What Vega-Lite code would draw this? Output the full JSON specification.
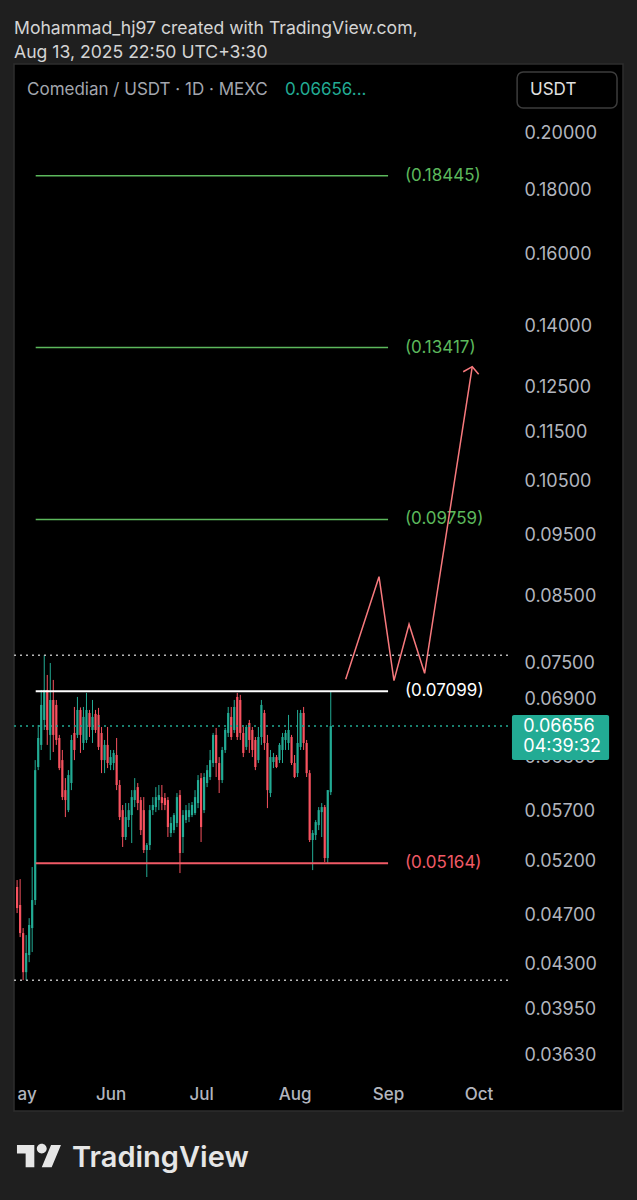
{
"$schema":"https://vega.github.io/schema/vega-lite/v6.json",
"width":609,"height":1047,
"autosize":{"type":"none"},
"padding":{"left":14,"top":64,"right":14,"bottom":89},
"background":"#1f1f1f",
"config":{"view":{"fill":"#000000","stroke":"#2e2e2e","strokeWidth":1.5},"font":"Inter","scale":{"continuousPadding":0}},
"title":{"text":["Mohammad_hj97 created with TradingView.com,","Aug 13, 2025 22:50 UTC+3:30"],"anchor":"start","frame":"group","orient":"top","color":"#d4d4d4","font":"Inter","fontSize":17.6,"fontWeight":"normal","lineHeight":24,"offset":2},
"datasets":{
"candles":[
{"d":"2025-05-01","o":0.04941,"h":0.05005,"l":0.04708,"c":0.04752},
{"d":"2025-05-02","o":0.04779,"h":0.05014,"l":0.04503,"c":0.04537},
{"d":"2025-05-03","o":0.04537,"h":0.04579,"l":0.04158,"c":0.04220},
{"d":"2025-05-04","o":0.04220,"h":0.04520,"l":0.04158,"c":0.04372},
{"d":"2025-05-05","o":0.04356,"h":0.04664,"l":0.04299,"c":0.04605},
{"d":"2025-05-06","o":0.04579,"h":0.05127,"l":0.04380,"c":0.04823},
{"d":"2025-05-07","o":0.04823,"h":0.06250,"l":0.04779,"c":0.06135},
{"d":"2025-05-08","o":0.06170,"h":0.06670,"l":0.06135,"c":0.06511},
{"d":"2025-05-09","o":0.06428,"h":0.07117,"l":0.06368,"c":0.06922},
{"d":"2025-05-10","o":0.06732,"h":0.07591,"l":0.06608,"c":0.07117},
{"d":"2025-05-11","o":0.07117,"h":0.07317,"l":0.06428,"c":0.06608},
{"d":"2025-05-12","o":0.06548,"h":0.07481,"l":0.06250,"c":0.06986},
{"d":"2025-05-13","o":0.06986,"h":0.07250,"l":0.06344,"c":0.06548},
{"d":"2025-05-14","o":0.06922,"h":0.06986,"l":0.06428,"c":0.06487},
{"d":"2025-05-15","o":0.06511,"h":0.06548,"l":0.06135,"c":0.06158},
{"d":"2025-05-16","o":0.06250,"h":0.06368,"l":0.05804,"c":0.05836},
{"d":"2025-05-17","o":0.05912,"h":0.06045,"l":0.05624,"c":0.05804},
{"d":"2025-05-18","o":0.05697,"h":0.06135,"l":0.05676,"c":0.06079},
{"d":"2025-05-19","o":0.05990,"h":0.06548,"l":0.05912,"c":0.06487},
{"d":"2025-05-20","o":0.06572,"h":0.06896,"l":0.06250,"c":0.06368},
{"d":"2025-05-21","o":0.06548,"h":0.07025,"l":0.06511,"c":0.06858},
{"d":"2025-05-22","o":0.06858,"h":0.06890,"l":0.06333,"c":0.06548},
{"d":"2025-05-23","o":0.06451,"h":0.06896,"l":0.06368,"c":0.06770},
{"d":"2025-05-24","o":0.06487,"h":0.07078,"l":0.06451,"c":0.06858},
{"d":"2025-05-25","o":0.06820,"h":0.06858,"l":0.06523,"c":0.06645},
{"d":"2025-05-26","o":0.06608,"h":0.06986,"l":0.06451,"c":0.06770},
{"d":"2025-05-27","o":0.06808,"h":0.06858,"l":0.06572,"c":0.06608},
{"d":"2025-05-28","o":0.06795,"h":0.06884,"l":0.06368,"c":0.06404},
{"d":"2025-05-29","o":0.06572,"h":0.06645,"l":0.06101,"c":0.06250},
{"d":"2025-05-30","o":0.06250,"h":0.06487,"l":0.06101,"c":0.06428},
{"d":"2025-05-31","o":0.06428,"h":0.06645,"l":0.06158,"c":0.06216},
{"d":"2025-06-01","o":0.06193,"h":0.06368,"l":0.06135,"c":0.06285},
{"d":"2025-06-02","o":0.06216,"h":0.06368,"l":0.06135,"c":0.06333},
{"d":"2025-06-03","o":0.06309,"h":0.06511,"l":0.05912,"c":0.05968},
{"d":"2025-06-04","o":0.05968,"h":0.06023,"l":0.05593,"c":0.05624},
{"d":"2025-06-05","o":0.05697,"h":0.05751,"l":0.05321,"c":0.05420},
{"d":"2025-06-06","o":0.05420,"h":0.05772,"l":0.05390,"c":0.05624},
{"d":"2025-06-07","o":0.05593,"h":0.05772,"l":0.05521,"c":0.05697},
{"d":"2025-06-08","o":0.05645,"h":0.05912,"l":0.05360,"c":0.05836},
{"d":"2025-06-09","o":0.05804,"h":0.06045,"l":0.05729,"c":0.05912},
{"d":"2025-06-10","o":0.05945,"h":0.05990,"l":0.05697,"c":0.05772},
{"d":"2025-06-11","o":0.05804,"h":0.05836,"l":0.05440,"c":0.05490},
{"d":"2025-06-12","o":0.05697,"h":0.05836,"l":0.05262,"c":0.05291},
{"d":"2025-06-13","o":0.05291,"h":0.05360,"l":0.05033,"c":0.05340},
{"d":"2025-06-14","o":0.05340,"h":0.05751,"l":0.05291,"c":0.05697},
{"d":"2025-06-15","o":0.05697,"h":0.05836,"l":0.05645,"c":0.05751},
{"d":"2025-06-16","o":0.05729,"h":0.05945,"l":0.05676,"c":0.05836},
{"d":"2025-06-17","o":0.05804,"h":0.05968,"l":0.05697,"c":0.05858},
{"d":"2025-06-18","o":0.05836,"h":0.05968,"l":0.05697,"c":0.05772},
{"d":"2025-06-19","o":0.05826,"h":0.05880,"l":0.05697,"c":0.05751},
{"d":"2025-06-20","o":0.05804,"h":0.05836,"l":0.05420,"c":0.05521},
{"d":"2025-06-21","o":0.05460,"h":0.05624,"l":0.05420,"c":0.05562},
{"d":"2025-06-22","o":0.05490,"h":0.05666,"l":0.05460,"c":0.05645},
{"d":"2025-06-23","o":0.05562,"h":0.05880,"l":0.05521,"c":0.05836},
{"d":"2025-06-24","o":0.05858,"h":0.05912,"l":0.05070,"c":0.05262},
{"d":"2025-06-25","o":0.05420,"h":0.05697,"l":0.05262,"c":0.05645},
{"d":"2025-06-26","o":0.05593,"h":0.05751,"l":0.05562,"c":0.05697},
{"d":"2025-06-27","o":0.05624,"h":0.05772,"l":0.05572,"c":0.05697},
{"d":"2025-06-28","o":0.05645,"h":0.05783,"l":0.05624,"c":0.05751},
{"d":"2025-06-29","o":0.05666,"h":0.05912,"l":0.05645,"c":0.05836},
{"d":"2025-06-30","o":0.05772,"h":0.06079,"l":0.05718,"c":0.06023},
{"d":"2025-07-01","o":0.06045,"h":0.06101,"l":0.05370,"c":0.05521},
{"d":"2025-07-02","o":0.05697,"h":0.06101,"l":0.05666,"c":0.06057},
{"d":"2025-07-03","o":0.05990,"h":0.06193,"l":0.05945,"c":0.06135},
{"d":"2025-07-04","o":0.06057,"h":0.06368,"l":0.06023,"c":0.06250},
{"d":"2025-07-05","o":0.06216,"h":0.06572,"l":0.06170,"c":0.06548},
{"d":"2025-07-06","o":0.06548,"h":0.06633,"l":0.06057,"c":0.06216},
{"d":"2025-07-07","o":0.06216,"h":0.06285,"l":0.05880,"c":0.06023},
{"d":"2025-07-08","o":0.06023,"h":0.06404,"l":0.05990,"c":0.06368},
{"d":"2025-07-09","o":0.06368,"h":0.06633,"l":0.06333,"c":0.06608},
{"d":"2025-07-10","o":0.06572,"h":0.06896,"l":0.06523,"c":0.06820},
{"d":"2025-07-11","o":0.06770,"h":0.06896,"l":0.06487,"c":0.06523},
{"d":"2025-07-12","o":0.06608,"h":0.06986,"l":0.06572,"c":0.06896},
{"d":"2025-07-13","o":0.07025,"h":0.07078,"l":0.06487,"c":0.06523},
{"d":"2025-07-14","o":0.06986,"h":0.07052,"l":0.06487,"c":0.06572},
{"d":"2025-07-15","o":0.06572,"h":0.06645,"l":0.06285,"c":0.06333},
{"d":"2025-07-16","o":0.06404,"h":0.06670,"l":0.06368,"c":0.06645},
{"d":"2025-07-17","o":0.06695,"h":0.06732,"l":0.06333,"c":0.06487},
{"d":"2025-07-18","o":0.06608,"h":0.06645,"l":0.06285,"c":0.06368},
{"d":"2025-07-19","o":0.06487,"h":0.06523,"l":0.06135,"c":0.06170},
{"d":"2025-07-20","o":0.06250,"h":0.06645,"l":0.06216,"c":0.06523},
{"d":"2025-07-21","o":0.06523,"h":0.06986,"l":0.06428,"c":0.06922},
{"d":"2025-07-22","o":0.06820,"h":0.06858,"l":0.06368,"c":0.06451},
{"d":"2025-07-23","o":0.06451,"h":0.06548,"l":0.05718,"c":0.05912},
{"d":"2025-07-24","o":0.05880,"h":0.06368,"l":0.05836,"c":0.06285},
{"d":"2025-07-25","o":0.06228,"h":0.06333,"l":0.06158,"c":0.06285},
{"d":"2025-07-26","o":0.06285,"h":0.06309,"l":0.06158,"c":0.06170},
{"d":"2025-07-27","o":0.06250,"h":0.06451,"l":0.06216,"c":0.06428},
{"d":"2025-07-28","o":0.06368,"h":0.06572,"l":0.06216,"c":0.06523},
{"d":"2025-07-29","o":0.06487,"h":0.06608,"l":0.06368,"c":0.06572},
{"d":"2025-07-30","o":0.06451,"h":0.06795,"l":0.06368,"c":0.06608},
{"d":"2025-07-31","o":0.06523,"h":0.06548,"l":0.06193,"c":0.06216},
{"d":"2025-08-01","o":0.06216,"h":0.06309,"l":0.06045,"c":0.06057},
{"d":"2025-08-02","o":0.06101,"h":0.06858,"l":0.06057,"c":0.06451},
{"d":"2025-08-03","o":0.06404,"h":0.06858,"l":0.06368,"c":0.06820},
{"d":"2025-08-04","o":0.06820,"h":0.06896,"l":0.06368,"c":0.06451},
{"d":"2025-08-05","o":0.06451,"h":0.06487,"l":0.06057,"c":0.06101},
{"d":"2025-08-06","o":0.06101,"h":0.06135,"l":0.05370,"c":0.05390},
{"d":"2025-08-07","o":0.05390,"h":0.05490,"l":0.05098,"c":0.05460},
{"d":"2025-08-08","o":0.05440,"h":0.05593,"l":0.05390,"c":0.05572},
{"d":"2025-08-09","o":0.05541,"h":0.05729,"l":0.05490,"c":0.05697},
{"d":"2025-08-10","o":0.05676,"h":0.05772,"l":0.05420,"c":0.05729},
{"d":"2025-08-11","o":0.05729,"h":0.05751,"l":0.05175,"c":0.05213},
{"d":"2025-08-12","o":0.05213,"h":0.05912,"l":0.05165,"c":0.05912},
{"d":"2025-08-13","o":0.05890,"h":0.07099,"l":0.05858,"c":0.06656}
],
"dots":[{"k":"hi","p":0.0759},{"k":"last","p":0.06656},{"k":"lo","p":0.04158}],
"levels":[
{"k":"t3","p":0.18445,"label":"(0.18445)"},
{"k":"t2","p":0.13417,"label":"(0.13417)"},
{"k":"t1","p":0.09759,"label":"(0.09759)"},
{"k":"top","p":0.07099,"label":"(0.07099)"},
{"k":"bot","p":0.05164,"label":"(0.05164)"}
],
"proj":[
{"g":"path","k":1,"date":"2025-08-17T23:00:00Z","p":0.07259},
{"g":"path","k":2,"date":"2025-08-29T00:00:00Z","p":0.08778},
{"g":"path","k":3,"date":"2025-09-02T23:00:00Z","p":0.0724},
{"g":"path","k":4,"date":"2025-09-07T23:00:00Z","p":0.08038},
{"g":"path","k":5,"date":"2025-09-13T03:00:00Z","p":0.0734},
{"g":"path","k":6,"date":"2025-09-28T22:00:00Z","p":0.1295},
{"g":"head","k":1,"date":"2025-09-25T22:00:00Z","p":0.1283},
{"g":"head","k":2,"date":"2025-09-28T22:00:00Z","p":0.1295},
{"g":"head","k":3,"date":"2025-10-01T01:00:00Z","p":0.1277}
]
},
"layer":[
{"data":{"name":"candles"},"mark":{"type":"rule","strokeWidth":1},
 "encoding":{
  "x":{"field":"d","type":"temporal","scale":{"type":"utc","padding":0,"domain":[{"year":2025,"month":"apr","date":29,"hours":23,"minutes":17,"utc":true},{"year":2025,"month":"nov","date":17,"hours":21,"minutes":36,"utc":true}]},
   "axis":{"orient":"bottom","offset":-25,"title":null,"domain":false,"ticks":false,"grid":false,"labelPadding":0,"labelFlush":false,"labelOverlap":false,"labelBound":false,"labelFont":"Inter","labelFontSize":17,"labelFontWeight":500,"labelColor":"#b2b5be",
    "values":[{"year":2025,"month":"may","date":1,"utc":true},{"year":2025,"month":"jun","date":1,"utc":true},{"year":2025,"month":"jul","date":1,"utc":true},{"year":2025,"month":"aug","date":1,"utc":true},{"year":2025,"month":"sep","date":1,"utc":true},{"year":2025,"month":"oct","date":1,"utc":true}],
    "labelExpr":"utcmonth(datum.value)==4 ? 'ay' : utcFormat(datum.value,'%b')",
    "labelAlign":{"condition":{"test":"utcmonth(datum.value)==4","value":"left"},"value":"center"}}},
  "y":{"field":"l","type":"quantitative","scale":{"type":"log","padding":0,"domain":[0.032632,0.22684],"nice":false},
   "axis":{"orient":"right","offset":-99,"title":null,"domain":false,"ticks":false,"grid":false,"labelPadding":0,
    "labelOffset":{"condition":{"test":"abs(datum.value-0.069)<0.000001","value":-7},"value":2},
    "labelOverlap":false,"labelBound":false,"labelFlush":false,"labelFont":"Inter","labelFontSize":18,"labelColor":"#b2b5be","format":".5f",
    "values":[0.2,0.18,0.16,0.14,0.125,0.115,0.105,0.095,0.085,0.075,0.069,0.063,0.057,0.052,0.047,0.043,0.0395,0.0363]}},
  "y2":{"field":"h"},
  "color":{"condition":{"test":"datum.c>=datum.o","value":"#22ab94"},"value":"#f7525f"}}},
{"data":{"name":"candles"},"mark":{"type":"bar","width":2.2},
 "encoding":{
  "x":{"field":"d","type":"temporal","scale":{"type":"utc","padding":0,"domain":[{"year":2025,"month":"apr","date":29,"hours":23,"minutes":17,"utc":true},{"year":2025,"month":"nov","date":17,"hours":21,"minutes":36,"utc":true}]}},
  "y":{"field":"o","type":"quantitative","scale":{"type":"log","padding":0,"domain":[0.032632,0.22684],"nice":false}},
  "y2":{"field":"c"},
  "color":{"condition":{"test":"datum.c>=datum.o","value":"#22ab94"},"value":"#f7525f"}}},
{"data":{"name":"dots"},"mark":{"type":"rule","strokeDash":[2,4],"strokeWidth":1.5},
 "encoding":{
  "x":{"datum":{"year":2025,"month":"apr","date":29,"hours":23,"minutes":17,"utc":true},"type":"temporal","scale":{"type":"utc","padding":0,"domain":[{"year":2025,"month":"apr","date":29,"hours":23,"minutes":17,"utc":true},{"year":2025,"month":"nov","date":17,"hours":21,"minutes":36,"utc":true}]}},
  "x2":{"datum":{"year":2025,"month":"oct","date":11,"hours":19,"utc":true}},
  "y":{"field":"p","type":"quantitative","scale":{"type":"log","padding":0,"domain":[0.032632,0.22684],"nice":false}},
  "color":{"condition":{"test":"datum.k=='last'","value":"#22ab94"},"value":"#b8b8b8"}}},
{"data":{"name":"levels"},"mark":{"type":"rule"},
 "encoding":{
  "x":{"datum":{"year":2025,"month":"may","date":7,"hours":4,"utc":true},"type":"temporal","scale":{"type":"utc","padding":0,"domain":[{"year":2025,"month":"apr","date":29,"hours":23,"minutes":17,"utc":true},{"year":2025,"month":"nov","date":17,"hours":21,"minutes":36,"utc":true}]}},
  "x2":{"datum":{"year":2025,"month":"sep","date":1,"utc":true}},
  "y":{"field":"p","type":"quantitative","scale":{"type":"log","padding":0,"domain":[0.032632,0.22684],"nice":false}},
  "strokeWidth":{"condition":{"test":"datum.k=='top'||datum.k=='bot'","value":2},"value":1.5},
  "color":{"condition":[{"test":"datum.k=='top'","value":"#ffffff"},{"test":"datum.k=='bot'","value":"#f05a66"}],"value":"#5cb85c"}}},
{"data":{"name":"levels"},"mark":{"type":"text","align":"left","baseline":"middle","fontSize":17,"font":"Inter"},
 "encoding":{
  "x":{"datum":{"year":2025,"month":"sep","date":6,"hours":14,"utc":true},"type":"temporal","scale":{"type":"utc","padding":0,"domain":[{"year":2025,"month":"apr","date":29,"hours":23,"minutes":17,"utc":true},{"year":2025,"month":"nov","date":17,"hours":21,"minutes":36,"utc":true}]}},
  "y":{"field":"p","type":"quantitative","scale":{"type":"log","padding":0,"domain":[0.032632,0.22684],"nice":false}},
  "text":{"field":"label"},
  "color":{"condition":[{"test":"datum.k=='top'","value":"#ffffff"},{"test":"datum.k=='bot'","value":"#f05a66"}],"value":"#5cb85c"}}},
{"data":{"name":"proj"},"mark":{"type":"line","color":"#f7797d","strokeWidth":1.5},
 "encoding":{
  "x":{"field":"date","type":"temporal","scale":{"type":"utc","padding":0,"domain":[{"year":2025,"month":"apr","date":29,"hours":23,"minutes":17,"utc":true},{"year":2025,"month":"nov","date":17,"hours":21,"minutes":36,"utc":true}]}},
  "y":{"field":"p","type":"quantitative","scale":{"type":"log","padding":0,"domain":[0.032632,0.22684],"nice":false}},
  "detail":{"field":"g"},
  "order":{"field":"k"}}},
{"data":{"values":[{}]},"mark":{"type":"rect","color":"#22ab94","cornerRadius":2},
 "encoding":{
  "x":{"datum":{"year":2025,"month":"oct","date":12,"hours":2,"utc":true},"type":"temporal","scale":{"type":"utc","padding":0,"domain":[{"year":2025,"month":"apr","date":29,"hours":23,"minutes":17,"utc":true},{"year":2025,"month":"nov","date":17,"hours":21,"minutes":36,"utc":true}]}},
  "x2":{"datum":{"year":2025,"month":"nov","date":13,"hours":7,"utc":true}},
  "y":{"datum":0.06794,"type":"quantitative","scale":{"type":"log","padding":0,"domain":[0.032632,0.22684],"nice":false}},
  "y2":{"datum":0.0625}}},
{"data":{"values":[{"t":"0.06656","p":0.06645},{"t":"04:39:32","p":0.06403}]},"mark":{"type":"text","align":"left","baseline":"middle","fontSize":18,"font":"Inter","color":"#ffffff"},
 "encoding":{
  "x":{"datum":{"year":2025,"month":"oct","date":15,"hours":20,"utc":true},"type":"temporal","scale":{"type":"utc","padding":0,"domain":[{"year":2025,"month":"apr","date":29,"hours":23,"minutes":17,"utc":true},{"year":2025,"month":"nov","date":17,"hours":21,"minutes":36,"utc":true}]}},
  "y":{"field":"p","type":"quantitative","scale":{"type":"log","padding":0,"domain":[0.032632,0.22684],"nice":false}},
  "text":{"field":"t"}}},
{"data":{"values":[{}]},"mark":{"type":"rect","fill":"#000000","stroke":"#3c3c3c","strokeWidth":1.5,"cornerRadius":6},
 "encoding":{
  "x":{"datum":{"year":2025,"month":"oct","date":13,"hours":19,"utc":true},"type":"temporal","scale":{"type":"utc","padding":0,"domain":[{"year":2025,"month":"apr","date":29,"hours":23,"minutes":17,"utc":true},{"year":2025,"month":"nov","date":17,"hours":21,"minutes":36,"utc":true}]}},
  "x2":{"datum":{"year":2025,"month":"nov","date":15,"hours":22,"utc":true}},
  "y":{"datum":0.2235,"type":"quantitative","scale":{"type":"log","padding":0,"domain":[0.032632,0.22684],"nice":false}},
  "y2":{"datum":0.20909}}},
{"data":{"values":[{}]},"mark":{"type":"text","align":"left","baseline":"middle","fontSize":17,"font":"Inter","color":"#e0e0e0","text":"USDT"},
 "encoding":{
  "x":{"datum":{"year":2025,"month":"oct","date":18,"hours":2,"utc":true},"type":"temporal","scale":{"type":"utc","padding":0,"domain":[{"year":2025,"month":"apr","date":29,"hours":23,"minutes":17,"utc":true},{"year":2025,"month":"nov","date":17,"hours":21,"minutes":36,"utc":true}]}},
  "y":{"datum":0.21618,"type":"quantitative","scale":{"type":"log","padding":0,"domain":[0.032632,0.22684],"nice":false}}}},
{"data":{"values":[{}]},"mark":{"type":"text","align":"left","baseline":"middle","fontSize":17,"font":"Inter","color":"#a3a6ae","text":"Comedian / USDT · 1D · MEXC"},
 "encoding":{
  "x":{"datum":{"year":2025,"month":"may","date":4,"hours":7,"utc":true},"type":"temporal","scale":{"type":"utc","padding":0,"domain":[{"year":2025,"month":"apr","date":29,"hours":23,"minutes":17,"utc":true},{"year":2025,"month":"nov","date":17,"hours":21,"minutes":36,"utc":true}]}},
  "y":{"datum":0.21618,"type":"quantitative","scale":{"type":"log","padding":0,"domain":[0.032632,0.22684],"nice":false}}}},
{"data":{"values":[{}]},"mark":{"type":"text","align":"left","baseline":"middle","fontSize":17,"font":"Inter","color":"#22ab94","text":"0.06656..."},
 "encoding":{
  "x":{"datum":{"year":2025,"month":"jul","date":28,"hours":19,"utc":true},"type":"temporal","scale":{"type":"utc","padding":0,"domain":[{"year":2025,"month":"apr","date":29,"hours":23,"minutes":17,"utc":true},{"year":2025,"month":"nov","date":17,"hours":21,"minutes":36,"utc":true}]}},
  "y":{"datum":0.21618,"type":"quantitative","scale":{"type":"log","padding":0,"domain":[0.032632,0.22684],"nice":false}}}},
{"data":{"values":[{}]},"mark":{"type":"point","filled":true,"color":"#e6e6e6","opacity":1,"size":1936,"strokeWidth":0,
  "shape":"M-0.211 0.507H-0.606V-0.113H-1V-0.507H-0.211ZM0.577 0.507H0.127L0.549 -0.507H1ZM-0.098 -0.338A0.225 0.225 0 1 0 0.352 -0.338A0.225 0.225 0 1 0 -0.098 -0.338Z"},
 "encoding":{
  "x":{"datum":{"year":2025,"month":"may","date":8,"hours":6,"utc":true},"type":"temporal","scale":{"type":"utc","padding":0,"domain":[{"year":2025,"month":"apr","date":29,"hours":23,"minutes":17,"utc":true},{"year":2025,"month":"nov","date":17,"hours":21,"minutes":36,"utc":true}]}},
  "y":{"datum":0.03002,"type":"quantitative","scale":{"type":"log","padding":0,"domain":[0.032632,0.22684],"nice":false}}}},
{"data":{"values":[{}]},"mark":{"type":"text","align":"left","baseline":"alphabetic","fontSize":29,"fontWeight":600,"font":"Inter","color":"#e6e6e6","text":"TradingView"},
 "encoding":{
  "x":{"datum":{"year":2025,"month":"may","date":19,"hours":5,"utc":true},"type":"temporal","scale":{"type":"utc","padding":0,"domain":[{"year":2025,"month":"apr","date":29,"hours":23,"minutes":17,"utc":true},{"year":2025,"month":"nov","date":17,"hours":21,"minutes":36,"utc":true}]}},
  "y":{"datum":0.02942,"type":"quantitative","scale":{"type":"log","padding":0,"domain":[0.032632,0.22684],"nice":false}}}}
]
}
